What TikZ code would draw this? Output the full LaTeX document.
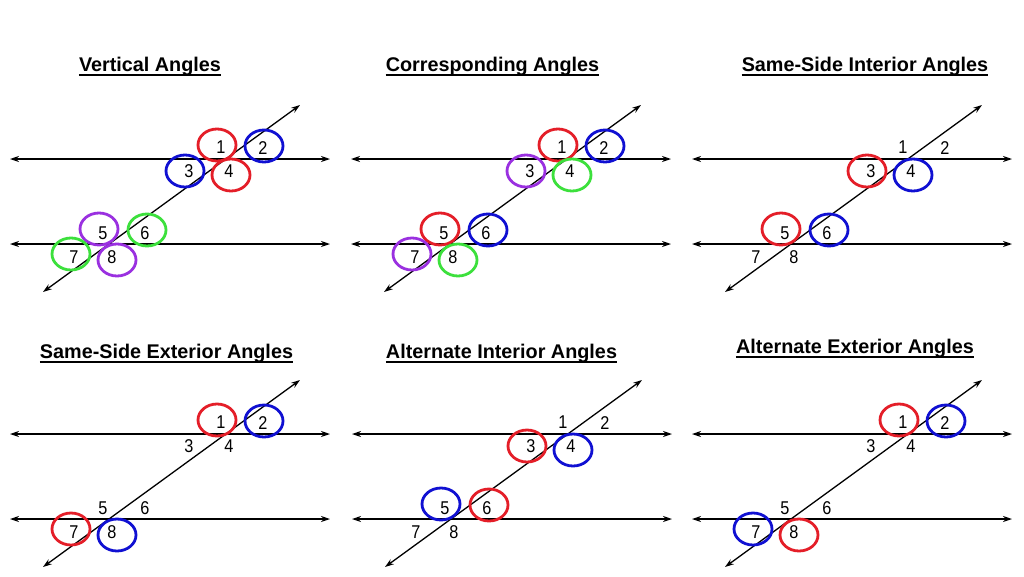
\documentclass[tikz,border=0pt]{standalone}
\usepackage{fontspec}
\setmainfont{Liberation Sans}
\newfontfamily\numfont[FakeStretch=0.88]{Liberation Sans}
\usetikzlibrary{arrows.meta,shapes.geometric}
\definecolor{cred}{HTML}{E41E28}
\definecolor{cblue}{HTML}{1010D2}
\definecolor{cgreen}{HTML}{3CE03C}
\definecolor{cpurple}{HTML}{9A30E0}
\tikzset{
  geoline/.style={line width=1.3pt, {Stealth[length=9pt,width=6pt]}-{Stealth[length=9pt,width=6pt]}},
  ring/.style={ellipse, draw, line width=2.8pt, minimum width=38pt, minimum height=32pt, inner sep=0pt},
  num/.style={inner sep=0pt, font=\numfont\fontsize{18.5}{20}\selectfont},
  title/.style={inner sep=0pt, anchor=base, font=\bfseries\fontsize{19.8}{22}\selectfont},
  uline/.style={line width=1.6pt}
}
\newcommand\panelgeom[1]{%
  \coordinate (#1-tl) at (10,159); \coordinate (#1-tr) at (330,159);
  \coordinate (#1-bl) at (10,244); \coordinate (#1-br) at (330,244);
  \coordinate (#1-ta) at (43,292); \coordinate (#1-tb) at (300,105);
  \coordinate (#1-c1) at (217,145); \coordinate (#1-c2) at (264,146);
  \coordinate (#1-c3) at (185,171); \coordinate (#1-c4) at (231,175);
  \coordinate (#1-c5) at (99,229);  \coordinate (#1-c6) at (147,230);
  \coordinate (#1-c7) at (71,254);  \coordinate (#1-c8) at (117,260);
  \draw[geoline] (#1-tl) -- (#1-tr);
  \draw[geoline] (#1-bl) -- (#1-br);
  \draw[geoline] (#1-ta) -- (#1-tb);
}
\newcommand\panellabels[1]{%
  \node[num] (#1-n1) at (221,147) {1};
  \node[num] (#1-n2) at (263,148) {2};
  \node[num] (#1-n3) at (189,171) {3};
  \node[num] (#1-n4) at (229,171) {4};
  \node[num] (#1-n5) at (103,233) {5};
  \node[num] (#1-n6) at (145,233) {6};
  \node[num] (#1-n7) at (74,257) {7};
  \node[num] (#1-n8) at (112,257) {8};
}
\newcommand\ringat[3]{\node[ring, draw=#3] (#1-r#2) at (#1-c#2) {};}
\newcommand\titled[4]{%
  \node[title] (#1) at (#2,#3) {#4};
  \draw[uline] ([yshift=-3.8pt]#1.base west) -- ([yshift=-3.8pt]#1.base east);
}
\begin{document}
\begin{tikzpicture}[x=1pt,y=-1pt]
\useasboundingbox[fill=white] (0,0) rectangle (1024,576);
% titles
\titled{t1}{150}{71}{Vertical Angles}
\titled{t2}{492.5}{71}{Corresponding Angles}
\titled{t3}{865}{71}{Same-Side Interior Angles}
\titled{t4}{166.5}{358}{Same-Side Exterior Angles}
\titled{t5}{501.5}{358}{Alternate Interior Angles}
\titled{t6}{855}{353}{Alternate Exterior Angles}
% panel 1
\begin{scope}[shift={(0,0)}]
  \panelgeom{a}
  \ringat{a}{1}{cred}\ringat{a}{2}{cblue}\ringat{a}{3}{cblue}\ringat{a}{4}{cred}
  \ringat{a}{5}{cpurple}\ringat{a}{6}{cgreen}\ringat{a}{7}{cgreen}\ringat{a}{8}{cpurple}
  \panellabels{a}
\end{scope}
% panel 2
\begin{scope}[shift={(341,0)}]
  \panelgeom{b}
  \ringat{b}{1}{cred}\ringat{b}{2}{cblue}\ringat{b}{3}{cpurple}\ringat{b}{4}{cgreen}
  \ringat{b}{5}{cred}\ringat{b}{6}{cblue}\ringat{b}{7}{cpurple}\ringat{b}{8}{cgreen}
  \panellabels{b}
\end{scope}
% panel 3
\begin{scope}[shift={(682,0)}]
  \panelgeom{c}
  \ringat{c}{3}{cred}\ringat{c}{4}{cblue}\ringat{c}{5}{cred}\ringat{c}{6}{cblue}
  \panellabels{c}
\end{scope}
% panel 4
\begin{scope}[shift={(0,275)}]
  \panelgeom{d}
  \ringat{d}{1}{cred}\ringat{d}{2}{cblue}\ringat{d}{7}{cred}\ringat{d}{8}{cblue}
  \panellabels{d}
\end{scope}
% panel 5
\begin{scope}[shift={(342,275)}]
  \panelgeom{e}
  \ringat{e}{3}{cred}\ringat{e}{4}{cblue}\ringat{e}{5}{cblue}\ringat{e}{6}{cred}
  \panellabels{e}
\end{scope}
% panel 6
\begin{scope}[shift={(682,275)}]
  \panelgeom{f}
  \ringat{f}{1}{cred}\ringat{f}{2}{cblue}\ringat{f}{7}{cblue}\ringat{f}{8}{cred}
  \panellabels{f}
\end{scope}
\end{tikzpicture}
\end{document}
